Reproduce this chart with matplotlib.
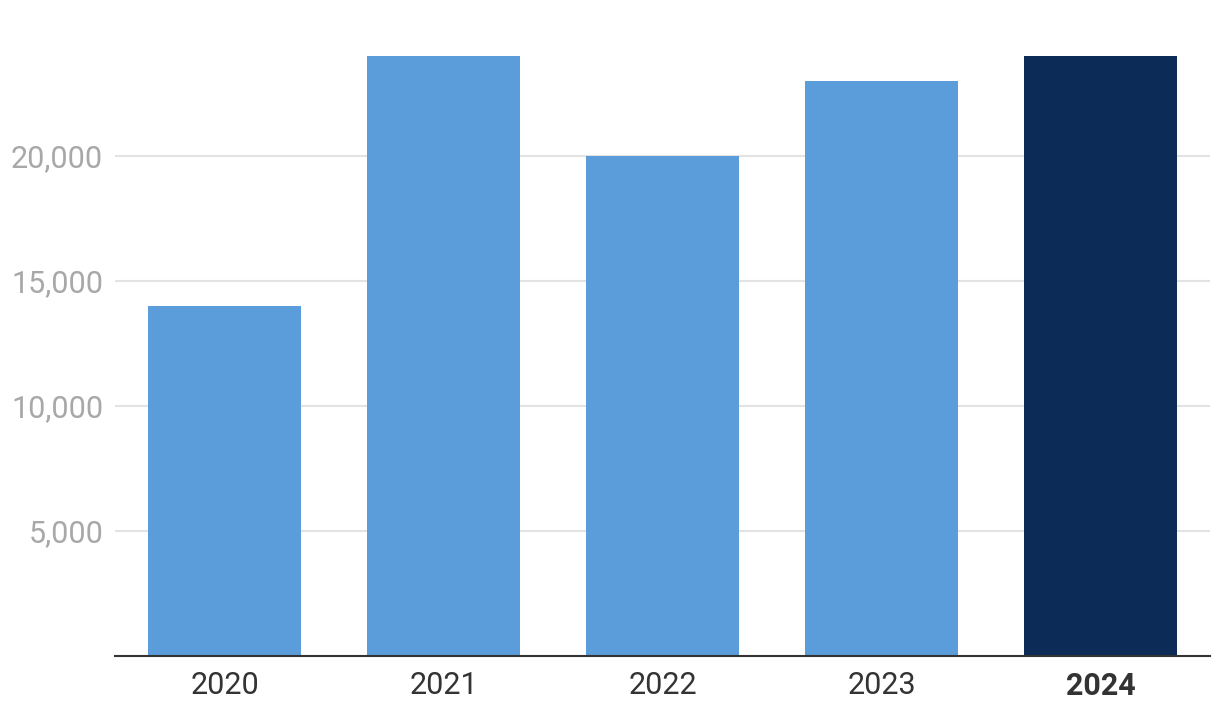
import matplotlib
matplotlib.use("Agg")
import matplotlib.pyplot as plt
from matplotlib.ticker import FuncFormatter

years = ["2020", "2021", "2022", "2023", "2024"]
values = [14000, 24000, 20000, 23000, 24000]
highlight = "2024"
yticks = [5000, 10000, 15000, 20000]

plt.rcParams['font.family'] = ['Roboto', 'DejaVu Sans']

fig = plt.figure(figsize=(12.2, 7.22), dpi=100)
ax = fig.add_axes([115 / 1220, 1 - 656 / 722, 1095 / 1220, 625 / 722])

colors = ['#0d2b57' if y == highlight else '#5b9ddb' for y in years]
ax.bar(range(len(years)), values, width=0.7, color=colors, zorder=3)

ax.set_xlim(-0.5, len(years) - 0.5)
ax.set_ylim(0, 25000)
ax.set_yticks(yticks)
ax.yaxis.set_major_formatter(FuncFormatter(lambda v, p: f"{int(v):,}"))
ax.grid(axis='y', color='#e3e3e3', linewidth=1.5, zorder=0)

for s in ['top', 'right', 'left']:
    ax.spines[s].set_visible(False)
ax.spines['bottom'].set_color('#333333')
ax.spines['bottom'].set_linewidth(1.5)
ax.spines['bottom'].set_zorder(4)

ax.set_xticks(range(len(years)))
ax.set_xticklabels(years)
ax.tick_params(axis='x', length=0, pad=11, labelsize=22, labelcolor='#333333')
ax.tick_params(axis='y', length=0, pad=8.5, labelsize=22, labelcolor='#a8a8a8')
for lbl in ax.get_xticklabels():
    if lbl.get_text() == highlight:
        lbl.set_fontweight('bold')

fig.savefig("out.png", dpi=100)
